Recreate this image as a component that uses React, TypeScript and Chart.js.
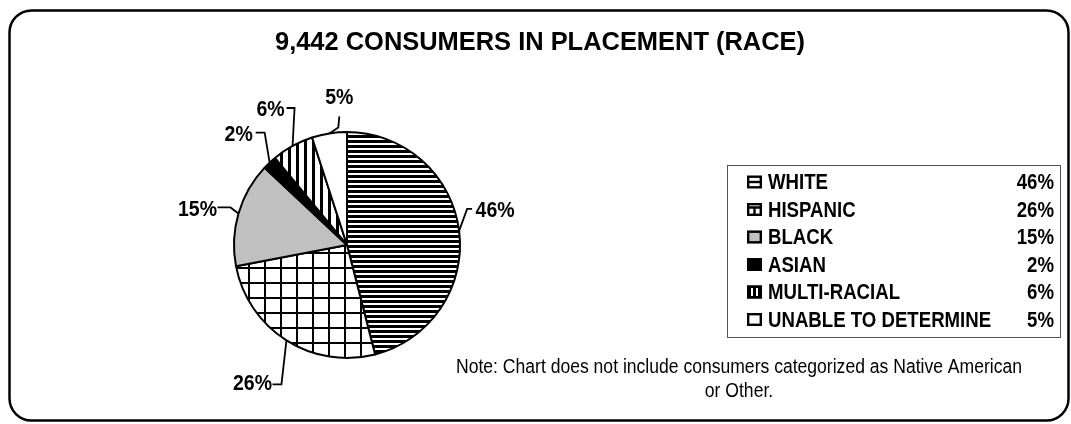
import React, { useEffect, useRef } from "react";
import { Chart, registerables } from "chart.js";

Chart.register(...registerables);

const TITLE = "9,442 CONSUMERS IN PLACEMENT (RACE)";
const categories = ["WHITE", "HISPANIC", "BLACK", "ASIAN", "MULTI-RACIAL", "UNABLE TO DETERMINE"];
const percents = [46, 26, 15, 2, 6, 5];
const NOTE_LINES = [
  "Note: Chart does not include consumers categorized as Native American",
  "or Other.",
];

// layout of the outside labels, relative to the mid point of each slice's rim
const labelLayout = [
  { dx: 36, dy: -21, ex: 8, ey: -22, sx: 13, sy: -22 },
  { dx: -34, dy: 43, ex: -5, ey: 44, sx: -14, sy: 44 },
  { dx: -41, dy: -5, ex: -8, ey: -6, sx: -21, sy: -6 },
  { dx: -31, dy: -29, ex: -5, ey: -30, sx: -14, sy: -30 },
  { dx: -22, dy: -37, ex: 2, ey: -38, sx: -6, sy: -38 },
  { dx: 10, dy: -36, ex: 9, ey: -6, sx: 10, sy: -17 },
];
const swatchKinds = ["hlines", "grid", "gray", "solid", "vlines", "empty"];
const GRAY = "#c0c0c0";
const FONT = "'Liberation Sans', Arial, sans-serif";

function makePattern(kind: string): CanvasPattern | string {
  const c = document.createElement("canvas");
  const g = c.getContext("2d")!;
  if (kind === "hlines") {
    c.width = 8; c.height = 5;
    g.fillStyle = "#fff"; g.fillRect(0, 0, 8, 5);
    g.fillStyle = "#000"; g.fillRect(0, 0, 8, 3);
  } else if (kind === "grid") {
    c.width = 16; c.height = 15;
    g.fillStyle = "#fff"; g.fillRect(0, 0, 16, 15);
    g.fillStyle = "#000"; g.fillRect(0, 0, 2, 15); g.fillRect(0, 0, 16, 2);
  } else if (kind === "vlines") {
    c.width = 8; c.height = 8;
    g.fillStyle = "#fff"; g.fillRect(0, 0, 8, 8);
    g.fillStyle = "#000"; g.fillRect(0, 0, 3, 8);
  } else if (kind === "gray") {
    return GRAY;
  } else if (kind === "solid") {
    return "#000";
  } else {
    return "#fff";
  }
  const p = g.createPattern(c, "repeat")!;
  if (kind === "grid" && typeof DOMMatrix !== "undefined") {
    p.setTransform(new DOMMatrix().translate(8, 12));
  }
  return p;
}

function fitText(ctx: CanvasRenderingContext2D, text: string, x: number, y: number, sx: number, align: CanvasTextAlign) {
  ctx.save();
  ctx.translate(x, y);
  ctx.scale(sx, 1);
  ctx.textAlign = align;
  ctx.fillText(text, 0, 0);
  ctx.restore();
}

function drawSwatch(ctx: CanvasRenderingContext2D, kind: string, x: number, y: number, w: number, h: number) {
  ctx.save();
  ctx.lineWidth = 2.4;
  ctx.strokeStyle = "#000";
  ctx.fillStyle = "#fff";
  if (kind === "gray") ctx.fillStyle = GRAY;
  if (kind === "solid" || kind === "vlines") ctx.fillStyle = "#000";
  ctx.fillRect(x, y, w, h);
  if (kind === "vlines") {
    ctx.fillStyle = "#fff";
    ctx.fillRect(x + 4, y + 2.5, 2, h - 5);
    ctx.fillRect(x + 9, y + 2.5, 2, h - 5);
  }
  ctx.strokeRect(x + 1.2, y + 1.2, w - 2.4, h - 2.4);
  ctx.beginPath();
  if (kind === "hlines") {
    ctx.moveTo(x, y + h / 2); ctx.lineTo(x + w, y + h / 2);
  } else if (kind === "grid") {
    ctx.moveTo(x, y + 4.5); ctx.lineTo(x + w, y + 4.5);
    ctx.moveTo(x + w / 2, y + 4.5); ctx.lineTo(x + w / 2, y + h);
  }
  ctx.stroke();
  ctx.restore();
}

const decorPlugin = {
  id: "decor",
  afterDraw(chart: any) {
    const ctx: CanvasRenderingContext2D = chart.ctx;
    ctx.save();
    // outer rounded frame
    ctx.lineWidth = 2.5;
    ctx.strokeStyle = "#000";
    ctx.beginPath();
    (ctx as any).roundRect(9.5, 10.5, 1059, 410, 22);
    ctx.stroke();

    // title
    ctx.fillStyle = "#000";
    ctx.textBaseline = "middle";
    ctx.font = `bold 26px ${FONT}`;
    const tw = ctx.measureText(TITLE).width;
    fitText(ctx, TITLE, 540, 43, 530 / tw, "center");

    // slice labels with leader lines
    const meta = chart.getDatasetMeta(0);
    ctx.font = `bold 22px ${FONT}`;
    const lsc = 39 / ctx.measureText("46%").width;
    ctx.lineWidth = 1.8;
    meta.data.forEach((arc: any, i: number) => {
      const mid = (arc.startAngle + arc.endAngle) / 2;
      const ax = arc.x + Math.cos(mid) * arc.outerRadius;
      const ay = arc.y + Math.sin(mid) * arc.outerRadius;
      const L = labelLayout[i];
      ctx.beginPath();
      ctx.moveTo(ax, ay);
      ctx.lineTo(ax + L.ex, ay + L.ey);
      ctx.lineTo(ax + L.sx, ay + L.sy);
      ctx.stroke();
      const v = chart.data.datasets[0].data[i];
      fitText(ctx, `${v}%`, ax + L.dx, ay + L.dy + 1, lsc, "center");
    });

    // legend box
    ctx.lineWidth = 1;
    ctx.strokeStyle = "#555";
    ctx.strokeRect(727.5, 165.5, 333, 172);
    ctx.font = `bold 22px ${FONT}`;
    const ls = 60 / ctx.measureText("WHITE").width;
    categories.forEach((cat, i) => {
      const cy = 182 + i * 27.5;
      drawSwatch(ctx, swatchKinds[i], 747, cy - 6.5, 15, 13);
      ctx.fillStyle = "#000";
      fitText(ctx, cat, 768, cy + 1, ls, "left");
      fitText(ctx, `${percents[i]}%`, 1054, cy + 1, ls, "right");
    });

    // note
    ctx.font = `20px ${FONT}`;
    const ns = 566 / ctx.measureText(NOTE_LINES[0]).width;
    fitText(ctx, NOTE_LINES[0], 739, 367, ns, "center");
    fitText(ctx, NOTE_LINES[1], 739, 391, ns, "center");
    ctx.restore();
  },
};

export default function App() {
  const ref = useRef<HTMLCanvasElement>(null);
  useEffect(() => {
    document.body.style.margin = "0";
    document.body.style.overflow = "hidden";
    const canvas = ref.current!;
    const fills = swatchKinds.map((k) => makePattern(k));
    const chart = new Chart(canvas, {
      type: "pie",
      data: {
        labels: categories,
        datasets: [
          {
            data: percents,
            backgroundColor: fills as any,
            borderColor: "#000",
            borderWidth: 2,
            borderAlign: "center",
          },
        ],
      },
      options: {
        responsive: false,
        animation: false,
        events: [],
        layout: { padding: { left: 233, right: 610, top: 131, bottom: 65 } },
        plugins: {
          legend: { display: false },
          title: { display: false },
          tooltip: { enabled: false },
        },
      },
      plugins: [decorPlugin],
    });
    return () => chart.destroy();
  }, []);
  return (
    <div style={{ width: 1071, height: 424, background: "#fff" }}>
      <canvas ref={ref} width={1071} height={424} style={{ display: "block" }} />
    </div>
  );
}
